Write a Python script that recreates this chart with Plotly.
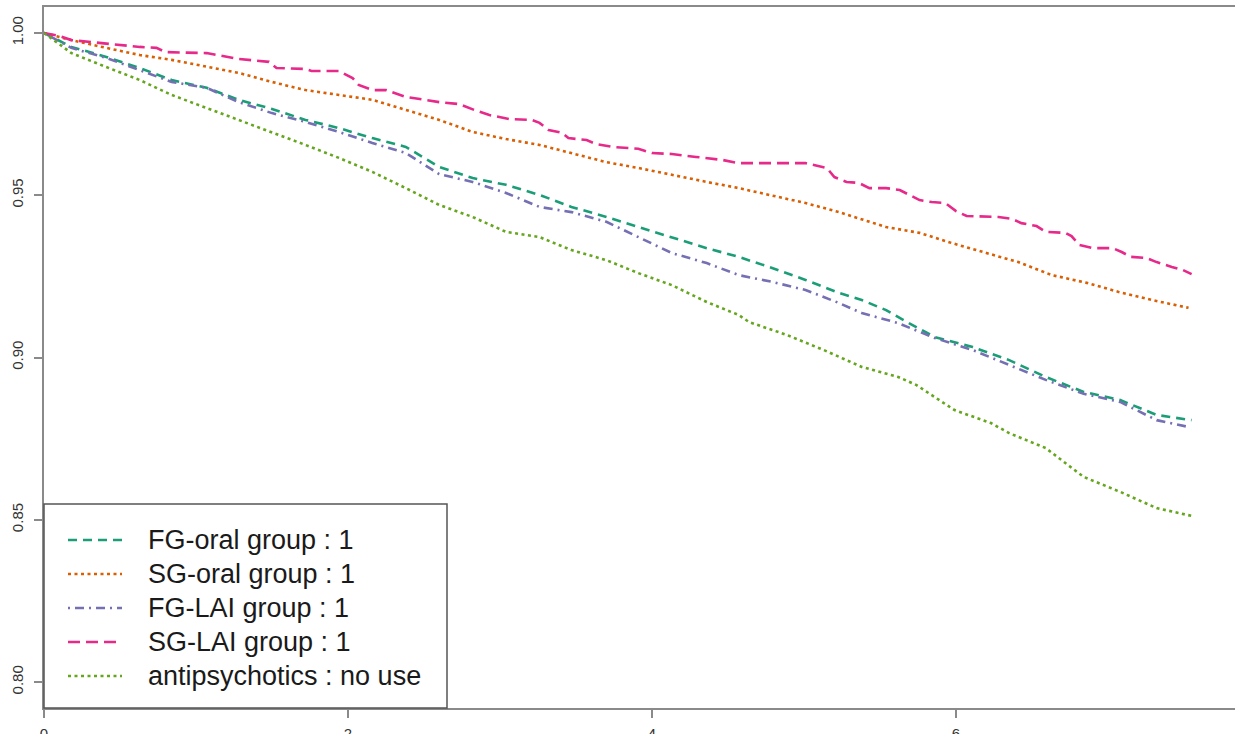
import plotly.graph_objects as go

# ---- data (time in years, survival probability) ----
fg_oral_t = [0, 0.18, 0.41, 0.63, 0.84, 1.07, 1.28, 1.50, 1.72, 1.94, 2.16, 2.38, 2.60, 2.82, 3.04, 3.26,
             3.47, 3.70, 3.91, 4.13, 4.36, 4.57, 4.79, 5.01, 5.23, 5.38, 5.54, 5.69, 5.86, 6.11, 6.35,
             6.59, 6.84, 7.08, 7.32, 7.55]
fg_oral_s = [1.0, 0.9957, 0.9926, 0.9892, 0.9855, 0.9831, 0.9794, 0.9766, 0.9732, 0.9707, 0.9676, 0.9649,
             0.9587, 0.9553, 0.9532, 0.9501, 0.9464, 0.9433, 0.9402, 0.9371, 0.9337, 0.9310, 0.9276, 0.9239,
             0.9199, 0.9177, 0.9146, 0.9106, 0.9063, 0.9032, 0.8992, 0.8940, 0.8894, 0.8869, 0.8823, 0.8807]

sg_oral_t = [0, 0.18, 0.41, 0.63, 0.84, 1.07, 1.28, 1.50, 1.72, 1.94, 2.16, 2.38, 2.60, 2.82, 3.04, 3.26,
             3.47, 3.70, 3.91, 4.13, 4.36, 4.57, 4.79, 5.01, 5.23, 5.54, 5.76, 5.97, 6.20, 6.41, 6.63,
             6.86, 7.07, 7.29, 7.53]
sg_oral_s = [1.0, 0.9978, 0.9954, 0.9932, 0.9917, 0.9895, 0.9877, 0.9849, 0.9824, 0.9809, 0.9794, 0.9763,
             0.9732, 0.9695, 0.9673, 0.9655, 0.9630, 0.9602, 0.9584, 0.9562, 0.9541, 0.9522, 0.9498, 0.9476,
             0.9448, 0.9402, 0.9384, 0.9353, 0.9322, 0.9294, 0.9254, 0.9230, 0.9202, 0.9177, 0.9153]

fg_lai_t = [0, 0.18, 0.41, 0.63, 0.84, 1.07, 1.28, 1.50, 1.72, 1.94, 2.16, 2.38, 2.60, 2.82, 3.04, 3.26,
            3.47, 3.70, 3.91, 4.13, 4.36, 4.57, 4.79, 5.01, 5.23, 5.38, 5.62, 5.86, 6.11, 6.35, 6.59,
            6.84, 7.08, 7.32, 7.53]
fg_lai_s = [1.0, 0.9954, 0.9923, 0.9886, 0.9849, 0.9831, 0.9787, 0.9753, 0.9726, 0.9695, 0.9661, 0.9630,
            0.9565, 0.9541, 0.9507, 0.9464, 0.9448, 0.9418, 0.9371, 0.9322, 0.9291, 0.9254, 0.9233, 0.9208,
            0.9168, 0.9137, 0.9106, 0.9060, 0.9023, 0.8977, 0.8931, 0.8888, 0.8863, 0.8807, 0.8786]

sg_lai_t = [0, 0.10, 0.18, 0.36, 0.63, 0.74, 0.80, 1.07, 1.28, 1.48, 1.53, 1.72, 1.76, 1.94, 2.03, 2.07,
            2.16, 2.25, 2.34, 2.38, 2.60, 2.73, 2.83, 2.93, 3.06, 3.21, 3.26, 3.32, 3.41, 3.45, 3.57,
            3.63, 3.74, 3.91, 4.00, 4.13, 4.29, 4.46, 4.57, 5.01, 5.15, 5.20, 5.28, 5.36, 5.43, 5.54,
            5.63, 5.69, 5.76, 5.84, 5.93, 6.00, 6.07, 6.28, 6.37, 6.43, 6.53, 6.59, 6.72, 6.76, 6.81,
            6.90, 7.03, 7.09, 7.15, 7.25, 7.32, 7.42, 7.49, 7.55]
sg_lai_s = [1.0, 0.9991, 0.9978, 0.9969, 0.9957, 0.9954, 0.9941, 0.9938, 0.9920, 0.9911, 0.9892, 0.9889,
            0.9883, 0.9883, 0.9861, 0.9840, 0.9824, 0.9824, 0.9809, 0.9803, 0.9787, 0.9781, 0.9763, 0.9747,
            0.9735, 0.9732, 0.9723, 0.9701, 0.9692, 0.9676, 0.9670, 0.9658, 0.9649, 0.9643, 0.9630, 0.9627,
            0.9618, 0.9609, 0.9599, 0.9599, 0.9584, 0.9556, 0.9541, 0.9538, 0.9522, 0.9522, 0.9516, 0.9501,
            0.9485, 0.9479, 0.9476, 0.9451, 0.9436, 0.9433, 0.9427, 0.9414, 0.9405, 0.9387, 0.9384, 0.9374,
            0.9347, 0.9337, 0.9337, 0.9325, 0.9310, 0.9307, 0.9294, 0.9279, 0.9270, 0.9257]

no_use_t = [0, 0.18, 0.41, 0.63, 0.84, 1.07, 1.28, 1.50, 1.72, 1.94, 2.16, 2.38, 2.60, 2.82, 3.04, 3.26,
            3.47, 3.70, 3.91, 4.13, 4.36, 4.57, 4.64, 4.89, 5.13, 5.38, 5.62, 5.74, 5.99, 6.23, 6.35,
            6.59, 6.72, 6.84, 7.08, 7.32, 7.55]
no_use_s = [1.0, 0.9938, 0.9895, 0.9855, 0.9809, 0.9769, 0.9732, 0.9695, 0.9655, 0.9615, 0.9572, 0.9522,
            0.9470, 0.9433, 0.9387, 0.9371, 0.9331, 0.9300, 0.9260, 0.9223, 0.9171, 0.9131, 0.9109, 0.9069,
            0.9023, 0.8971, 0.8940, 0.8915, 0.8838, 0.8798, 0.8767, 0.8721, 0.8675, 0.8632, 0.8586, 0.8536,
            0.8512]

labels = ["FG-oral group : 1", "SG-oral group : 1", "FG-LAI group : 1", "SG-LAI group : 1",
          "antipsychotics : no use"]
colors = ["#1B9E77", "#D95F02", "#7570B3", "#E7298A", "#66A61E"]
dashes = ["9px,6px", "3px,3.5px", "2px,5px,9px,5px", "12px,6px", "3px,3.5px"]

x_ticks = [0, 2, 4, 6]
y_ticks = [0.80, 0.85, 0.90, 0.95, 1.00]
y_ticktext = ["0.80", "0.85", "0.90", "0.95", "1.00"]

series = [(fg_oral_t, fg_oral_s), (sg_oral_t, sg_oral_s), (fg_lai_t, fg_lai_s),
          (sg_lai_t, sg_lai_s), (no_use_t, no_use_s)]

fig = go.Figure()
for (t, s), name, c, d in zip(series, labels, colors, dashes):
    fig.add_trace(go.Scatter(x=t, y=s, mode="lines", name=name, showlegend=False,
                             line=dict(color=c, width=2.6, dash=d)))

W, H = 1235, 734
ML, MR, MT, MB = 44, 0, 7, 26
pw, ph = W - ML - MR, H - MT - MB


def px(xp):
    return (xp - ML) / pw


def py(yp):
    return (H - MB - yp) / ph


shapes = [dict(type="rect", xref="paper", yref="paper", x0=0, x1=px(447), y0=0, y1=py(504),
               line=dict(color="#555555", width=1.5), fillcolor="white", layer="above")]
annotations = []
row_y = [540, 574, 608, 642, 676]
for name, c, d, ry in zip(labels, colors, dashes, row_y):
    shapes.append(dict(type="line", xref="paper", yref="paper", x0=px(68), x1=px(122),
                       y0=py(ry), y1=py(ry), line=dict(color=c, width=2.6, dash=d), layer="above"))
    annotations.append(dict(xref="paper", yref="paper", x=px(146), y=py(ry), text=name,
                            showarrow=False, xanchor="left", yanchor="middle",
                            font=dict(family="Liberation Sans, Arial, sans-serif", size=27,
                                      color="#1a1a1a")))

axis_col = "#8a8a8a"
fig.update_layout(
    width=W, height=H,
    margin=dict(l=ML, r=MR, t=MT, b=MB, pad=0),
    paper_bgcolor="white", plot_bgcolor="white",
    shapes=shapes, annotations=annotations,
    showlegend=False,
    xaxis=dict(range=[0, pw / 152.0], tickvals=x_ticks, ticktext=[str(v) for v in x_ticks],
               ticks="outside", ticklen=8, tickwidth=1.5, tickcolor=axis_col,
               showline=True, linecolor=axis_col, linewidth=2, mirror=True,
               showgrid=False, zeroline=False, automargin=False, ticklabelstandoff=3,
               tickfont=dict(family="Liberation Sans, Arial, sans-serif", size=15, color="#333333")),
    yaxis=dict(range=[0.792, 1.008], tickvals=y_ticks, ticktext=y_ticktext, tickangle=-90,
               ticks="outside", ticklen=8, tickwidth=1.5, tickcolor=axis_col,
               showline=True, linecolor=axis_col, linewidth=2, mirror=False,
               showgrid=False, zeroline=False, automargin=False, ticklabelstandoff=5,
               tickfont=dict(family="Liberation Sans, Arial, sans-serif", size=15, color="#333333")),
)

fig.write_html("out.html", config={"displayModeBar": False},
               post_script="document.body.style.margin='0';document.body.style.overflow='hidden';")
